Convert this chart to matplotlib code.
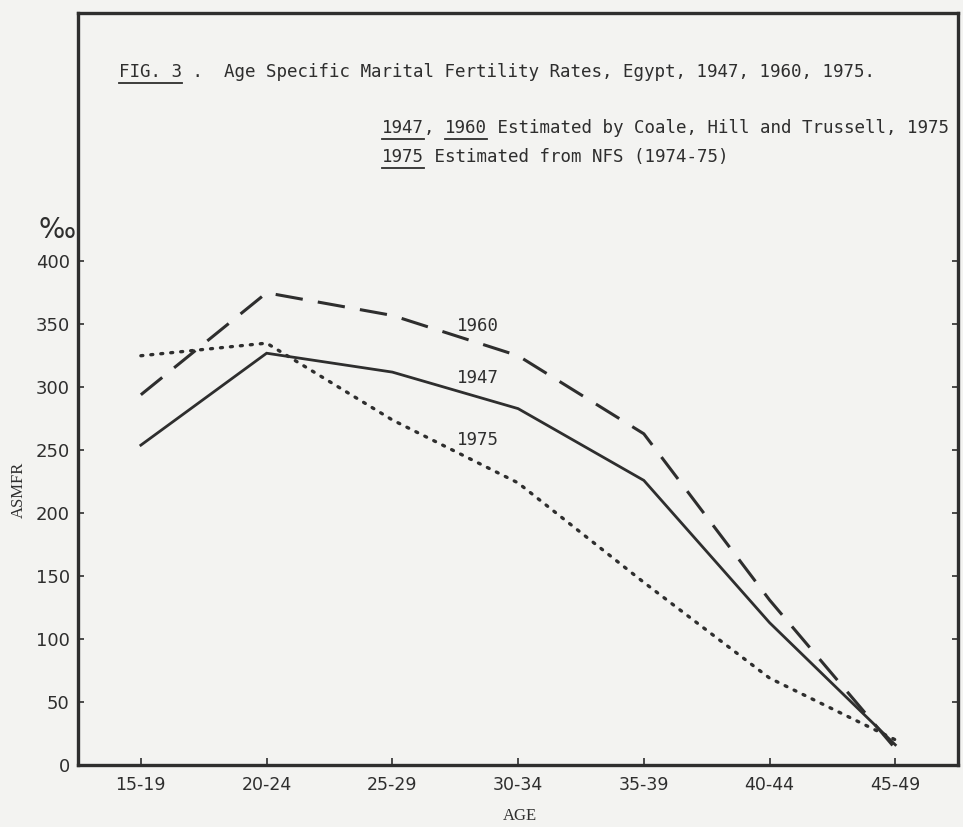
import numpy as np
import matplotlib
matplotlib.use("Agg")
import matplotlib.pyplot as plt
from matplotlib.lines import Line2D

ages = ["15-19", "20-24", "25-29", "30-34", "35-39", "40-44", "45-49"]
asmfr_1947 = [254, 327, 312, 283, 226, 113, 16]
asmfr_1960 = [294, 375, 357, 325, 263, 131, 13]
asmfr_1975 = [325, 335, 274, 224, 145, 69, 20]
yticks = [0, 50, 100, 150, 200, 250, 300, 350, 400]

ink = "#2e2e2e"
paper = "#f3f3f1"
tfont = ["DejaVu Sans Mono"]

fig = plt.figure(figsize=(9.63, 8.27), dpi=100, facecolor=paper)
ax = fig.add_axes([0.081, 0.075, 0.914, 0.909], facecolor=paper)

x = np.arange(len(ages))
ax.plot(x, asmfr_1947, color=ink, lw=2.0, solid_joinstyle="miter")
ax.plot(x, asmfr_1960, color=ink, lw=2.2, dashes=(9, 5))
ax.plot(x, asmfr_1975, color=ink, lw=2.4, linestyle=(0, (0.6, 2.4)), dash_capstyle="round")

ax.set_xlim(-0.5, 6.5)
ax.set_ylim(0, 597)
ax.set_xticks(x)
ax.set_xticklabels(ages, fontsize=12.5, color=ink)
ax.set_yticks(yticks)
ax.set_yticklabels([str(v) for v in yticks], fontsize=13, color=ink)
ax.tick_params(axis="x", direction="in", length=5, width=1.2, colors=ink, pad=8)
ax.tick_params(axis="y", direction="in", length=4, width=1.2, colors=ink, pad=6,
               right=True)
for s in ax.spines.values():
    s.set_linewidth(2.4)
    s.set_color(ink)

ax.set_xlabel("AGE", fontsize=12, color=ink, family="Liberation Serif")
ax.set_ylabel("ASMFR", fontsize=12, color=ink, family="Liberation Serif")
ax.xaxis.set_label_coords(0.502, -0.057)
ax.yaxis.set_label_coords(-0.058, 0.366)
fig.text(0.040, 0.722, "‰", fontsize=20, color=ink, ha="left", va="center")

# series labels
ax.text(2.515, 349, "1960", fontsize=12.5, color=ink, family=tfont, va="center")
ax.text(2.515, 307, "1947", fontsize=12.5, color=ink, family=tfont, va="center")
ax.text(2.515, 258, "1975", fontsize=12.5, color=ink, family=tfont, va="center")

renderer = fig.canvas.get_renderer()


def write_parts(xa, ya, parts, size=12.6):
    # write text pieces left to right, underline the flagged ones
    cur = xa
    for txt, under in parts:
        t = fig.text(cur, ya, txt, fontsize=size, color=ink, family=tfont,
                     ha="left", va="baseline")
        bb = t.get_window_extent(renderer=renderer).transformed(fig.transFigure.inverted())
        if under:
            yl = ya - 0.007
            fig.add_artist(Line2D([bb.x0, bb.x1], [yl, yl], transform=fig.transFigure,
                                  color=ink, lw=1.3))
        cur = bb.x1


write_parts(0.124, 0.907, [("FIG. 3", True), (" .  Age Specific Marital Fertility Rates, Egypt, 1947, 1960, 1975.", False)])
write_parts(0.397, 0.839, [("1947", True), (", ", False), ("1960", True),
                           (" Estimated by Coale, Hill and Trussell, 1975", False)])
write_parts(0.397, 0.804, [("1975", True), (" Estimated from NFS (1974-75)", False)])

fig.savefig("out.png", dpi=100, facecolor=paper)
